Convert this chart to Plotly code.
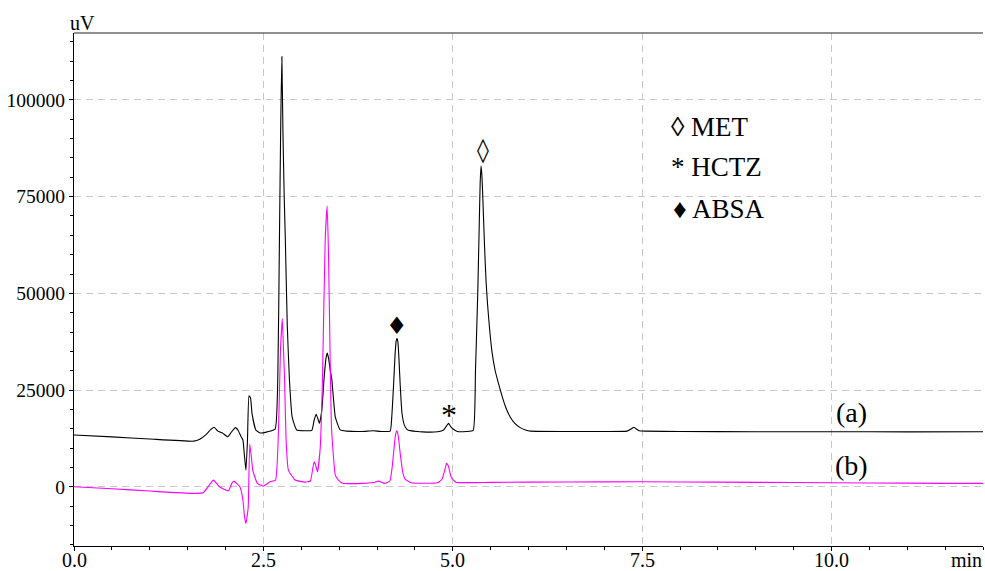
import plotly.graph_objects as go

# ---- data ----
t_a = [0.00, 0.50, 1.00, 1.58, 1.66, 1.75, 1.80, 1.85, 1.90, 1.96, 2.03, 2.08, 2.13, 2.17, 2.20, 2.23, 2.25, 2.27,
       2.29, 2.31, 2.33, 2.35, 2.40, 2.46, 2.55, 2.655, 2.69, 2.712, 2.73, 2.744, 2.758, 2.775, 2.79, 2.815, 2.844, 2.88, 2.94,
       3.05, 3.14, 3.17, 3.197, 3.22, 3.24, 3.27, 3.30, 3.325, 3.342, 3.36, 3.38, 3.404, 3.45, 3.514, 3.60, 3.80, 3.95,
       4.05, 4.174, 4.195, 4.218, 4.238, 4.252, 4.263, 4.276, 4.29, 4.307, 4.33, 4.36, 4.39, 4.416, 4.60, 4.80, 4.88,
       4.92, 4.945, 4.97, 5.00, 5.06, 5.18, 5.27, 5.30, 5.33, 5.35, 5.362, 5.373, 5.385, 5.40, 5.42, 5.44, 5.46, 5.49,
       5.52, 5.56, 5.60, 5.65, 5.70, 5.76, 5.82, 5.89, 5.96, 6.03, 6.50, 7.00, 7.30, 7.36, 7.39, 7.42, 7.46,
       7.55, 8.00, 9.00, 10.00, 11.00, 12.00]
v_a = [13400, 12900, 12350, 11800, 12300, 13600, 14700, 15400, 14400, 13900, 12950, 14200, 15300, 14500, 13200, 12100, 8000, 4300,
       12000, 23500, 23000, 19000, 14700, 13900, 14200, 14900, 27650, 63860, 95000, 111200, 92000, 75000, 63860, 42000, 27650, 18000, 14700,
       14500, 14600, 17200, 18760, 17600, 16420, 19500, 27650, 33000, 34600, 33300, 30500, 27650, 18000, 14700, 14400, 14300, 14500,
       14300, 14400, 18000, 26000, 34000, 37600, 38400, 37400, 33000, 26000, 19000, 16000, 15000, 14600, 14200, 14250, 14700,
       15800, 16400, 15600, 15000, 14300, 14300, 14600, 30000, 50000, 68000, 78500, 82900, 80500, 73000, 62000, 53000, 47000, 40000,
       34600, 30000, 27000, 23500, 20500, 18000, 16400, 15300, 14700, 14400, 14300, 14300, 14400, 15000, 15400, 15000, 14500,
       14400, 14300, 14250, 14250, 14200, 14250]

t_b = [0.00, 0.50, 1.00, 1.58, 1.71, 1.77, 1.84, 1.92, 2.04, 2.08, 2.11, 2.15, 2.19, 2.23, 2.25, 2.27, 2.29, 2.30, 2.32, 2.34, 2.36,
       2.42, 2.50, 2.59, 2.66, 2.70, 2.725, 2.75, 2.765, 2.78, 2.80, 2.83, 2.92, 3.05, 3.12, 3.15, 3.17, 3.19, 3.215, 3.25,
       3.28, 3.316, 3.342, 3.36, 3.38, 3.40, 3.45, 3.49, 3.55, 3.80, 3.95, 4.02, 4.10, 4.17, 4.20, 4.22, 4.245, 4.263, 4.28,
       4.31, 4.34, 4.37, 4.45, 4.80, 4.86, 4.90, 4.92, 4.945, 4.98, 5.04, 5.50, 6.50, 7.50, 8.50, 9.50, 10.50, 11.50, 12.00]
v_b = [0, -500, -1100, -1700, -1450, 0, 1740, 0, -1040, 800, 1480, 800, 0, -3450, -7500, -9500, -7000, -5200, 11060, 8000, 4330,
       880, 180, 1300, 1740, 15000, 35000, 43500, 36000, 27650, 12000, 4330, 1740, 1200, 1500, 4500, 6480, 5600, 3890, 10000,
       27650, 63860, 72550, 60000, 35000, 15000, 3000, 1740, 900, 900, 1100, 1480, 900, 1500, 5000, 9000, 13500, 14500, 13200,
       8000, 3800, 2000, 1040, 1040, 2000, 4800, 6060, 5200, 2500, 1200, 1150, 1250, 1300, 1200, 1100, 1000, 900, 900]

x_ticks = [0, 2.5, 5, 7.5, 10]
x_tick_text = ["0.0", "2.5", "5.0", "7.5", "10.0"]
y_ticks = [0, 25000, 50000, 75000, 100000]
y_tick_text = ["0", "25000", "50000", "75000", "100000"]

legend_lines = ["\u25ca MET", "* HCTZ", "\u2666 ABSA"]

FONT = "Liberation Serif"

fig = go.Figure()
fig.add_trace(go.Scatter(x=t_a, y=v_a, mode="lines", line=dict(color="black", width=1.1, shape="spline", smoothing=0.4),
                         showlegend=False, hoverinfo="skip"))
fig.add_trace(go.Scatter(x=t_b, y=v_b, mode="lines", line=dict(color="#ff00ff", width=1.1, shape="spline", smoothing=0.4),
                         showlegend=False, hoverinfo="skip"))

grid = dict(showgrid=True, gridcolor="#c8c8c8", gridwidth=1, griddash="7px,5px")

fig.update_layout(
    width=985, height=571,
    margin=dict(l=74, r=2, t=33, b=25, autoexpand=False),
    paper_bgcolor="white", plot_bgcolor="white",
    font=dict(family=FONT, size=20, color="black"),
    xaxis=dict(range=[0, 12], tickvals=x_ticks, showticklabels=False, ticks="outside", ticklen=4,
               tickcolor="black", showline=True, linecolor="black", linewidth=1.2, zeroline=False, automargin=False,
               minor=dict(dtick=0.5, tick0=0, ticks="outside", ticklen=3, tickcolor="black", showgrid=False),
               **grid),
    yaxis=dict(range=[-15300, 117300], tickvals=y_ticks, ticktext=y_tick_text, ticks="outside", ticklen=4,
               tickcolor="black", showline=True, linecolor="black", linewidth=1.2, zeroline=False, automargin=False,
               minor=dict(dtick=5000, tick0=0, ticks="outside", ticklen=3, tickcolor="black", showgrid=False),
               tickfont=dict(family=FONT, size=19.5), **grid),
)

# top border
fig.add_shape(type="line", xref="paper", yref="paper", x0=0, x1=1, y0=1, y1=1,
              line=dict(color="#222222", width=1.2))

ann = []
for xv, xt in zip(x_ticks, x_tick_text):
    ann.append(dict(text=xt, x=xv, xref="x", yref="paper", y=0, xanchor="center", yanchor="top",
                    yshift=-2, borderpad=0, showarrow=False, font=dict(family=FONT, size=20)))
ann.append(dict(text="uV", xref="paper", yref="paper", x=0, y=1, xanchor="center", yanchor="bottom",
                xshift=8, yshift=-3, showarrow=False, font=dict(family=FONT, size=20)))
ann.append(dict(text="min", xref="paper", yref="paper", x=1, y=0, xanchor="right", yanchor="top",
                yshift=-2, borderpad=0, showarrow=False, font=dict(family=FONT, size=20)))
# peak labels
ann.append(dict(text="\u25ca", x=5.40, y=87000, showarrow=False, font=dict(family="DejaVu Serif", size=24)))
ann.append(dict(text="\u2666", x=4.27, y=41500, showarrow=False, font=dict(family="DejaVu Sans", size=24)))
ann.append(dict(text="*", x=4.95, y=18500, showarrow=False, font=dict(family=FONT, size=32)))
# legend text
for txt, yy, xx in zip(legend_lines, [92900, 82600, 71700], [7.85, 7.85, 7.88]):
    ann.append(dict(text=txt, x=xx, y=yy, xanchor="left", yanchor="middle", showarrow=False,
                    font=dict(family=FONT, size=27)))
ann.append(dict(text="(a)", x=10.26, y=19100, showarrow=False, font=dict(family=FONT, size=28)))
ann.append(dict(text="(b)", x=10.26, y=5600, showarrow=False, font=dict(family=FONT, size=28)))
fig.update_layout(annotations=ann)

fig.write_html("out.html", config={"displayModeBar": False},
               post_script="document.body.style.margin='0';document.body.style.overflow='hidden';")
